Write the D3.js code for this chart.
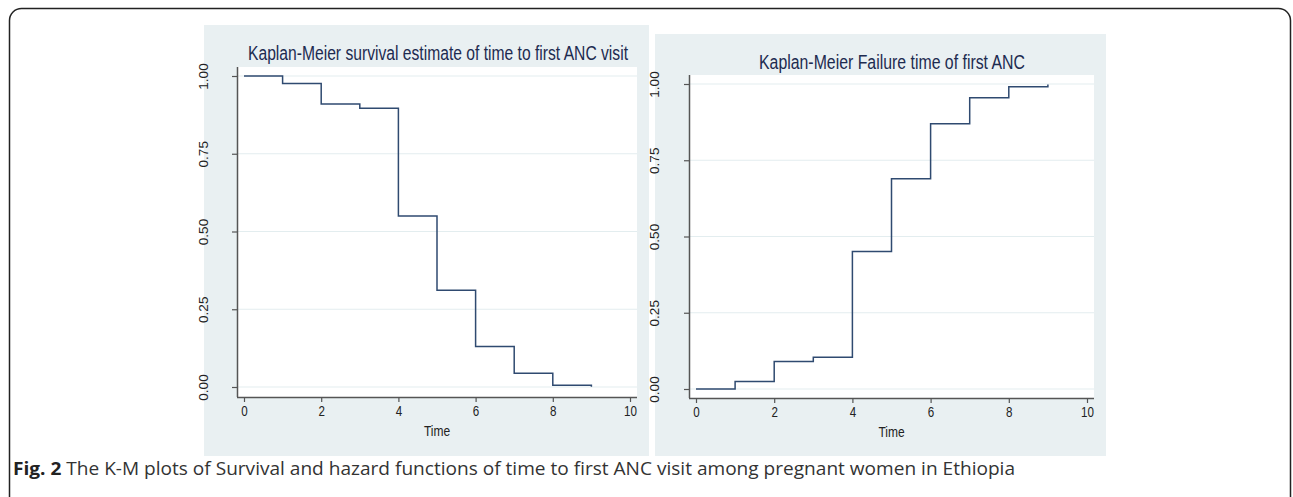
<!DOCTYPE html>
<html>
<head>
<meta charset="utf-8">
<script src="https://cdn.jsdelivr.net/npm/d3@7"></script>
<style>
  body { margin: 0; background: #fff; }
  svg { display: block; }
</style>
</head>
<body>
<svg id="fig" width="1293" height="497"></svg>
<script>
// K-M estimates
const times = [0, 1, 2, 3, 4, 5, 6, 7, 8, 9];
const survival = [1.00, 0.976, 0.910, 0.896, 0.550, 0.311, 0.130, 0.044, 0.006, 0.001];
const failure = [0.000, 0.025, 0.090, 0.104, 0.451, 0.689, 0.870, 0.955, 0.991, 0.998];
const xTicks = [0, 2, 4, 6, 8, 10];
const yTicks = [0, 0.25, 0.5, 0.75, 1];
const titles = ["Kaplan-Meier survival estimate of time to first ANC visit", "Kaplan-Meier Failure time of first ANC"];
const xLabel = "Time";

const svg = d3.select("#fig");
const sans = "'Liberation Sans', Arial, sans-serif";

// outer frame of the figure box
svg.append("rect")
  .attr("x", 9.5).attr("y", 8.5)
  .attr("width", 1281).attr("height", 520)
  .attr("rx", 12)
  .attr("fill", "none")
  .attr("stroke", "#222")
  .attr("stroke-width", 1.5);

const panels = [
  { bg: [204, 25, 445, 431], plot: [237, 67, 637, 397], x: [244, 630], y: [387, 76], ylab: 203, values: survival, title: titles[0], tx: 438, ty: 60, tw: 380 },
  { bg: [655, 34, 451, 422], plot: [689, 75, 1094, 398], x: [696, 1087], y: [389, 84], ylab: 654, values: failure, title: titles[1], tx: 892, ty: 69, tw: 266 }
];

panels.forEach(p => {
  const g = svg.append("g");
  g.append("rect")
    .attr("x", p.bg[0]).attr("y", p.bg[1])
    .attr("width", p.bg[2]).attr("height", p.bg[3])
    .attr("fill", "#e9f0f2");
  g.append("rect")
    .attr("x", p.plot[0]).attr("y", p.plot[1])
    .attr("width", p.plot[2] - p.plot[0]).attr("height", p.plot[3] - p.plot[1])
    .attr("fill", "#fff");

  const x = d3.scaleLinear().domain([0, 10]).range(p.x);
  const y = d3.scaleLinear().domain([0, 1]).range(p.y);

  // gridlines
  g.selectAll(".grid")
    .data(yTicks)
    .join("line")
    .attr("x1", p.plot[0]).attr("x2", p.plot[2])
    .attr("y1", d => y(d)).attr("y2", d => y(d))
    .attr("stroke", "#e3edef")
    .attr("stroke-width", 1.2);

  // x axis
  const xa = g.append("g")
    .attr("transform", "translate(0," + p.plot[3] + ")")
    .call(d3.axisBottom(x).tickValues(xTicks).tickSize(5).tickPadding(4).tickSizeOuter(0));
  xa.select(".domain").attr("d", "M" + p.plot[0] + ",0.5H" + p.plot[2]);
  // y axis
  const ya = g.append("g")
    .attr("transform", "translate(" + p.plot[0] + ",0)")
    .call(d3.axisLeft(y).tickValues(yTicks).tickSize(5).tickFormat(d3.format(".2f")).tickSizeOuter(0));
  ya.select(".domain").attr("d", "M0.5," + p.plot[1] + "V" + p.plot[3]);

  [xa, ya].forEach(a => {
    a.select(".domain").attr("stroke", "#555").attr("stroke-width", 1.5);
    a.selectAll(".tick line").attr("stroke", "#555").attr("stroke-width", 1.2);
  });
  xa.selectAll(".tick text")
    .attr("font-family", sans).attr("font-size", 14.5).attr("fill", "#222")
    .attr("x", 0)
    .attr("transform", "scale(0.8,1)");
  ya.selectAll(".tick text")
    .attr("font-family", sans).attr("font-size", 13.5).attr("fill", "#222")
    .attr("text-anchor", "middle")
    .attr("x", 0).attr("y", 0).attr("dy", "0.35em")
    .attr("transform", "translate(" + (p.ylab - p.plot[0]) + ",0) rotate(-90)");

  g.append("text")
    .attr("transform", "translate(" + (p.x[0] + p.x[1]) / 2 + "," + (p.plot[3] + 39) + ") scale(0.8,1)")
    .attr("text-anchor", "middle")
    .attr("font-family", sans).attr("font-size", 15).attr("fill", "#222")
    .text(xLabel);

  g.append("text")
    .attr("x", p.tx - p.tw / 2).attr("y", p.ty)
    .attr("textLength", p.tw).attr("lengthAdjust", "spacingAndGlyphs")
    .attr("font-family", sans).attr("font-size", 19.5).attr("fill", "#1d2b50")
    .text(p.title);

  const data = times.map((t, i) => ({ t: t, v: p.values[i] }));
  g.append("path")
    .datum(data)
    .attr("d", d3.line().x(d => x(d.t)).y(d => y(d.v)).curve(d3.curveStepAfter))
    .attr("fill", "none")
    .attr("stroke", "#2f4a70")
    .attr("stroke-width", 1.5);
});

// caption
const cap = svg.append("text")
  .attr("x", 13).attr("y", 475)
  .attr("textLength", 1002).attr("lengthAdjust", "spacingAndGlyphs")
  .attr("font-family", "'Open Sans', 'Noto Sans', sans-serif")
  .attr("font-size", 18.5).attr("fill", "#333");
cap.append("tspan").attr("font-weight", "bold").attr("fill", "#222").text("Fig. 2");
cap.append("tspan").text(" The K-M plots of Survival and hazard functions of time to first ANC visit among pregnant women in Ethiopia");
</script>
</body>
</html>
